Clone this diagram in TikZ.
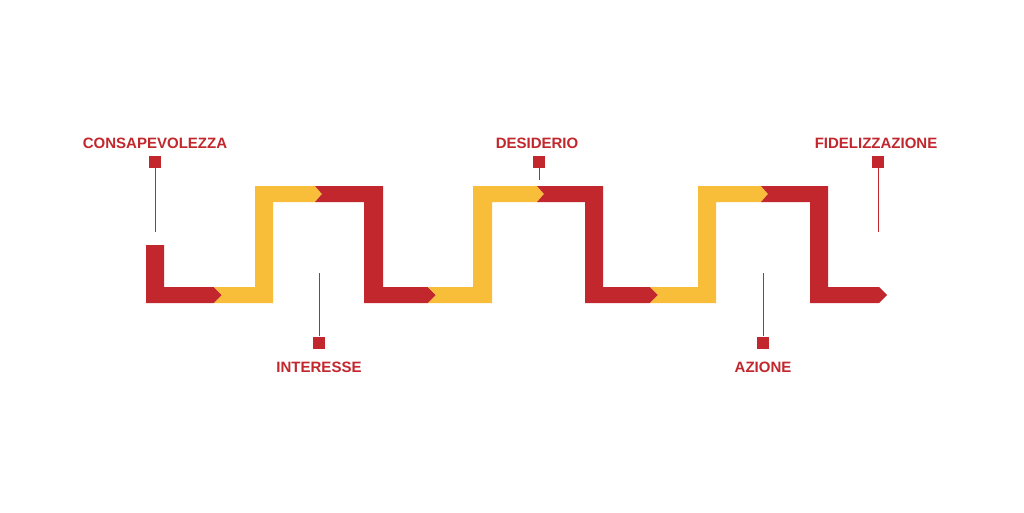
\documentclass[tikz,border=0pt]{standalone}
\usepackage{fontspec}
\setmainfont{Liberation Sans}
\definecolor{funnelred}{RGB}{193,39,45}
\definecolor{funnelyellow}{RGB}{248,190,58}
\begin{document}
\begin{tikzpicture}
    [x=1pt,y=-1pt,%
    rosso/.style={fill=funnelred},
    giallo/.style={fill=funnelyellow},
    etichetta/.style={text=funnelred,inner sep=0pt,%
      font=\fontsize{15}{18}\selectfont\bfseries},
    quadro/.style={fill=funnelred,minimum size=12pt,inner sep=0pt}]
    \useasboundingbox[fill=white] (0,0) rectangle (1024,512);

    % nastro a zig-zag
    \fill[rosso] (146,245) -- (164,245) -- (164,287) -- (214,287) --
    (222,295) -- (214,303) -- (146,303) -- cycle;
    \fill[giallo] (214,287) -- (255,287) -- (255,186) -- (315,186) --
    (322,194) -- (315,202) -- (273,202) -- (273,303) -- (214,303) --
    (222,295) -- cycle;
    \fill[rosso] (315,186) -- (383,186) -- (383,287) -- (428,287) --
    (436,295) -- (428,303) -- (364,303) -- (364,202) -- (315,202) --
    (322,194) -- cycle;
    \fill[giallo] (428,287) -- (473,287) -- (473,186) -- (537,186) --
    (544,194) -- (537,202) -- (492,202) -- (492,303) -- (428,303) --
    (436,295) -- cycle;
    \fill[rosso] (537,186) -- (603,186) -- (603,287) -- (650,287) --
    (658,295) -- (650,303) -- (585,303) -- (585,202) -- (537,202) --
    (544,194) -- cycle;
    \fill[giallo] (650,287) -- (698,287) -- (698,186) -- (761,186) --
    (768,194) -- (761,202) -- (716,202) -- (716,303) -- (650,303) --
    (658,295) -- cycle;
    \fill[rosso] (761,186) -- (828,186) -- (828,287) -- (879,287) --
    (887,295) -- (879,303) -- (810,303) -- (810,202) -- (761,202) --
    (768,194) -- cycle;

    % etichette
    \node[etichetta] (C) at (155,143) {CONSAPEVOLEZZA};
    \node[etichetta] (I) at (319,367) {INTERESSE};
    \node[etichetta] (D) at (537,143) {DESIDERIO};
    \node[etichetta] (A) at (763,367) {AZIONE};
    \node[etichetta] (F) at (876,143) {FIDELIZZAZIONE};

    \node[quadro] (qC) at (155,162) {};
    \node[quadro] (qI) at (319,342.5) {};
    \node[quadro] (qD) at (539,162) {};
    \node[quadro] (qA) at (763,342.5) {};
    \node[quadro] (qF) at (878,162) {};

    \coordinate (fC) at (155,232);
    \coordinate (fI) at (319,273);
    \coordinate (fD) at (539,180);
    \coordinate (fA) at (763,273);
    \coordinate (fF) at (878,232);

    \draw[funnelred,line width=1pt] (qC) -- (fC) ;
    \draw[funnelred,line width=1pt] (qI) -- (fI) ;
    \draw[funnelred,line width=1pt] (qD) -- (fD) ;
    \draw[funnelred,line width=1pt] (qA) -- (fA) ;
    \draw[funnelred,line width=1pt] (qF) -- (fF) ;
  \end{tikzpicture}
\end{document}
